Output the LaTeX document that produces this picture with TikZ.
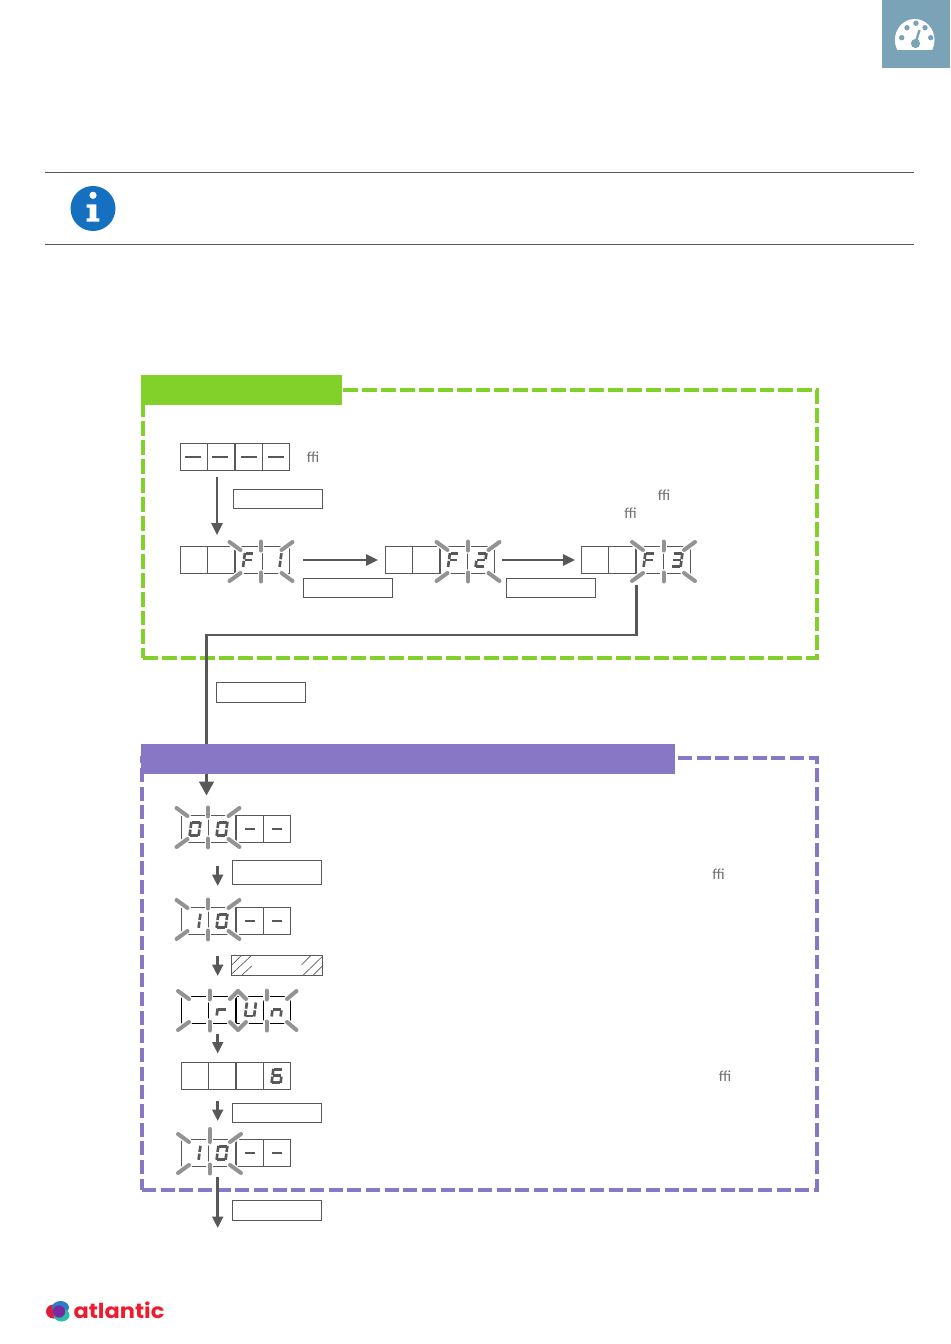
\documentclass[tikz,border=0pt]{standalone}
\usepackage{fontspec}
\setmainfont{Carlito}
\newfontfamily\logofont{Poppins}
\usetikzlibrary{arrows.meta}
\definecolor{ink}{HTML}{58585A}
\definecolor{raygray}{HTML}{939393}
\definecolor{lime}{HTML}{82D02A}
\definecolor{violet}{HTML}{8777C4}
\definecolor{tabblue}{HTML}{7BA3B8}
\definecolor{infoblue}{HTML}{1570C0}
\definecolor{fftext}{HTML}{707072}
\definecolor{logored}{HTML}{ED1C2E}
\definecolor{logocrimson}{HTML}{D91F3A}
\definecolor{logoblue}{HTML}{2A7FC5}
\definecolor{logoteal}{HTML}{2BBFA8}
\definecolor{logopurple}{HTML}{7A2AA0}
\tikzset{
  cellbox/.style={draw=ink,line width=0.75pt,inner sep=0pt,outer sep=0pt,minimum width=20.25pt,minimum height=20.25pt},
  labelbox/.style={draw=ink,line width=0.75pt,inner sep=0pt,outer sep=0pt},
  segline/.style={draw=ink,line width=2pt},
  dashseg/.style={draw=ink,line width=1.4pt},
  bigdash/.style={draw=ink,line width=1.5pt},
  rayline/.style={draw=raygray,line width=3pt,line cap=round},
  rayhalo/.style={draw=white,line width=5pt,line cap=round},
  thinarrow/.style={draw=ink,line width=1.5pt,-{Triangle[length=9pt,width=8.5pt,fill=ink]}},
  midarrow/.style={draw=ink,line width=1.9pt,-{Triangle[length=8.5pt,width=8pt,fill=ink]}},
  bigarrow/.style={draw=ink,line width=1.9pt,-{Triangle[length=10.5pt,width=11pt,fill=ink]}},
  hatchline/.style={draw=ink,line width=0.5pt},
  framegreen/.style={draw=lime,line width=2.3pt,dash pattern=on 11.2pt off 3pt},
  framepurple/.style={draw=violet,line width=2.3pt,dash pattern=on 10.6pt off 3.4pt},
  ruleline/.style={draw=ink,line width=0.75pt},
  fftxt/.style={text=fftext,font=\fontsize{11.5}{13}\selectfont,inner sep=0pt},
}
% rectangle node given by its corners in pixels
\newcommand{\pxbox}[6]{\node[#1,minimum width={(#5-#3)*0.75pt},minimum height={(#6-#4)*0.75pt}] (#2) at ({(#3+#5)/2},{(#4+#6)/2}) {};}
% four-cell display: name, left, top, style of lines
\newcommand{\disp}[4][]{%
  \node[cellbox,#1] (#2a) at (#3+13.5,#4+13.5) {};
  \node[cellbox,#1] (#2b) at (#3+40.5,#4+13.5) {};
  \node[cellbox,#1] (#2c) at (#3+68.5,#4+13.5) {};
  \node[cellbox,#1] (#2d) at (#3+95.5,#4+13.5) {};}
\newcommand{\sA}{\draw[segline] (-3.8,-6.6)--(3.8,-6.6);}
\newcommand{\sB}{\draw[segline] (4.5,-7)--(4.5,-0.8);}
\newcommand{\sC}{\draw[segline] (4.5,0.8)--(4.5,7);}
\newcommand{\sD}{\draw[segline] (-3.8,6.6)--(3.8,6.6);}
\newcommand{\sE}{\draw[segline] (-4.5,0.8)--(-4.5,7);}
\newcommand{\sF}{\draw[segline] (-4.5,-7)--(-4.5,-0.8);}
\newcommand{\sG}{\draw[segline] (-3.8,0)--(3.8,0);}
\newcommand{\sH}{\draw[dashseg] (-5,0)--(5,0);}
\newcommand{\digit}[3]{\begin{scope}[shift={(#1,#2)},xslant=0.13]#3\end{scope}}
\newcommand{\ray}[4]{\draw[rayhalo] (#1,#2)--(#3,#4);}
\newcommand{\rayb}[4]{\draw[rayline] (#1,#2)--(#3,#4);}
% #1 drawing macro, #2 cx, #3 cy, #4 left reach, #5 right reach
\newcommand{\flashpart}[5]{\begin{scope}[shift={(#2,#3)}]
  #1{-#4}{-19.5}{-20.5}{-11.5}#1{0}{-20}{0}{-11}#1{#5}{-19.5}{20.5}{-11.5}
  #1{-#4}{19.5}{-20.5}{11.5}#1{0}{20}{0}{11}#1{#5}{19.5}{20.5}{11.5}
\end{scope}}
\newcommand{\flash}[2]{\flashpart{\ray}{#1}{#2}{31.5}{31.5}\flashpart{\rayb}{#1}{#2}{31.5}{31.5}}
\begin{document}
\begin{tikzpicture}[x=0.75pt,y=-0.75pt]
\useasboundingbox (0,0) rectangle (950,1344);
% corner tab with gauge
\pxbox{fill=tabblue,inner sep=0pt,outer sep=0pt}{tab}{882}{0}{950}{68}
\begin{scope}
  \clip (890,15) rectangle (940,50);
  \fill[white] (914.7,40) ellipse [x radius=19.8,y radius=21];
\end{scope}
\fill[tabblue] (915.5,43.5) circle [radius=4.6];
\fill[tabblue] (901.7,37.7) circle [radius=2.7] (907,27.7) circle [radius=2.7] (916,23.2) circle [radius=2.7] (925,27.7) circle [radius=2.7] (930.7,37.7) circle [radius=2.7];
\draw[tabblue,line width=1.8pt] (915.5,43)--(919.5,30);
% info strip
\draw[ruleline] (45,172.5)--(914,172.5);
\draw[ruleline] (45,244.5)--(914,244.5);
\fill[infoblue] (93,208.5) circle [radius=22.5];
\fill[white] (93,195.3) circle [radius=3.6];
\fill[white] (86.7,204.3)--(96.3,204.3)--(96.3,218.3)--(99.3,218.3)--(99.3,221.7)--(86.7,221.7)--(86.7,218.3)--(89.7,218.3)--(89.7,207.7)--(86.7,207.7)--cycle;
% frames
\pxbox{framegreen}{greenframe}{143}{390}{817}{658}
\pxbox{framepurple}{purpleframe}{142}{758}{817}{1190}
% first group
\disp{d1}{180.5}{443.5}
\foreach \xx in {193,220,249,276}{\draw[bigdash] (\xx-8,457)--(\xx+8,457);}
\pxbox{labelbox}{l1}{233.5}{489.5}{322.5}{508.5}
\coordinate (a1s) at (217,477);
\coordinate (a1e) at (217,535);
\draw[thinarrow] (a1s)--(a1e);
\disp{d2}{180.5}{546.5}
\disp{d3}{385.5}{546.5}
\disp{d4}{581.5}{546.5}
\digit{248.5}{560}{\sA\sE\sF\sG}
\digit{276}{560}{\sB\sC}
\digit{453.5}{560}{\sA\sE\sF\sG}
\digit{481}{560}{\sA\sB\sG\sE\sD}
\digit{649}{560}{\sA\sE\sF\sG}
\digit{677}{560}{\sA\sB\sG\sC\sD}
\flash{261}{561.5}
\flash{468}{561.5}
\flash{663.5}{561.5}
\pxbox{labelbox}{l2}{303.5}{578.5}{392.5}{597.5}
\pxbox{labelbox}{l3}{506.5}{578.5}{595.5}{597.5}
\coordinate (a2s) at (303,560);
\coordinate (a2e) at (378,560);
\coordinate (a3s) at (502,560);
\coordinate (a3e) at (575,560);
\draw[thinarrow] (a2s)--(a2e);
\draw[thinarrow] (a3s)--(a3e);
\node[fftxt] (t1) at (313,457) {ﬃ};
\node[fftxt] (t2) at (664,495) {ﬃ};
\node[fftxt] (t3) at (630.5,513) {ﬃ};
% long connector
\pxbox{labelbox}{l4}{216.5}{682.5}{305.5}{702.5}
\coordinate (c1) at (636.5,585);
\coordinate (c2) at (636.5,635);
\coordinate (c3) at (206.5,635);
\coordinate (c4) at (206.5,795.5);
\draw[bigarrow] (c1)--(c2)--(c3)--(c4);
% bands
\pxbox{fill=lime,inner sep=0pt,outer sep=0pt}{greenband}{141}{375}{341.5}{405}
\pxbox{fill=violet,inner sep=0pt,outer sep=0pt}{purpleband}{141}{744}{675}{774}
% second group
\disp{d5}{181.5}{815.3}
\digit{195}{828.8}{\sA\sB\sC\sD\sE\sF}
\digit{222}{828.8}{\sA\sB\sC\sD\sE\sF}
\digit{250}{828.8}{\sH}
\digit{277}{828.8}{\sH}
\flash{208}{827.5}
\pxbox{labelbox}{l5}{232.5}{860.5}{321.5}{884.5}
\coordinate (a4s) at (217.7,866);
\coordinate (a4e) at (217.7,886);
\draw[midarrow] (a4s)--(a4e);
\disp{d6}{181.5}{907.3}
\digit{195}{920.8}{\sB\sC}
\digit{222}{920.8}{\sA\sB\sC\sD\sE\sF}
\digit{250}{920.8}{\sH}
\digit{277}{920.8}{\sH}
\flash{208}{919.5}
\pxbox{labelbox}{l6}{231.7}{955.3}{322.3}{975.3}
\draw[hatchline] (231.7,965)--(241.7,955.3);
\draw[hatchline] (231.7,974)--(251.7,955.3);
\draw[hatchline] (241.7,975.3)--(251.7,966);
\draw[hatchline] (301.5,965)--(311,955.3);
\draw[hatchline] (303,975.3)--(322.3,956.5);
\draw[hatchline] (313,975.3)--(322.3,966);
\coordinate (a5s) at (217.7,956);
\coordinate (a5e) at (217.7,976);
\draw[midarrow] (a5s)--(a5e);
\disp[draw=black]{d7}{181.7}{996}
\digit{222}{1009.5}{\draw[segline] (-4.5,-1)--(-4.5,6);\draw[segline] (-3.8,0)--(3.5,0);}
\digit{250.5}{1009.5}{\sB\sC\sD\sE\sF}
\digit{277}{1009.5}{\sC\sE\sG}
\flashpart{\ray}{209.5}{1010.5}{31.5}{28.5}
\flashpart{\ray}{266.5}{1010.5}{28.5}{30}
\flashpart{\rayb}{209.5}{1010.5}{31.5}{28.5}
\flashpart{\rayb}{266.5}{1010.5}{28.5}{30}
\coordinate (a6s) at (217.7,1033.5);
\coordinate (a6e) at (217.7,1053.5);
\draw[midarrow] (a6s)--(a6e);
\disp{d8}{181.5}{1062.3}
\digit{277}{1075.8}{\sA\sC\sD\sE\sF\sG}
\pxbox{labelbox}{l7}{232.5}{1103.5}{321.5}{1122.5}
\coordinate (a7s) at (217.7,1101);
\coordinate (a7e) at (217.7,1121);
\draw[midarrow] (a7s)--(a7e);
\disp{d9}{181.5}{1139.3}
\digit{195}{1152.8}{\sB\sC}
\digit{222}{1152.8}{\sA\sB\sC\sD\sE\sF}
\digit{250}{1152.8}{\sH}
\digit{277}{1152.8}{\sH}
\flash{209.5}{1153.5}
\ray{209.7}{1129}{209.7}{1142}
\rayb{209.7}{1129}{209.7}{1142}
\pxbox{labelbox}{l8}{232.5}{1200.5}{321.5}{1220.5}
\coordinate (a8s) at (217.7,1177);
\coordinate (a8e) at (217.7,1228);
\draw[midarrow] (a8s)--(a8e);
\node[fftxt] (t4) at (718.5,874) {ﬃ};
\node[fftxt] (t5) at (725,1076) {ﬃ};
% logo
\fill[logocrimson] (53.5,1311.5) ellipse [x radius=7.5,y radius=7];
\fill[logoblue] (60.5,1307.5) ellipse [x radius=8.5,y radius=6.5];
\fill[logoteal] (61.5,1315) ellipse [x radius=8,y radius=6.5];
\fill[logopurple] (59,1311.5) circle [radius=6.2];
\node[text=logored,inner sep=0pt,font=\logofont\fontsize{15.5}{18}\selectfont\bfseries,xscale=1.09,transform shape] (logotext) at (119,1310.5) {atlantic};
\end{tikzpicture}
\end{document}
